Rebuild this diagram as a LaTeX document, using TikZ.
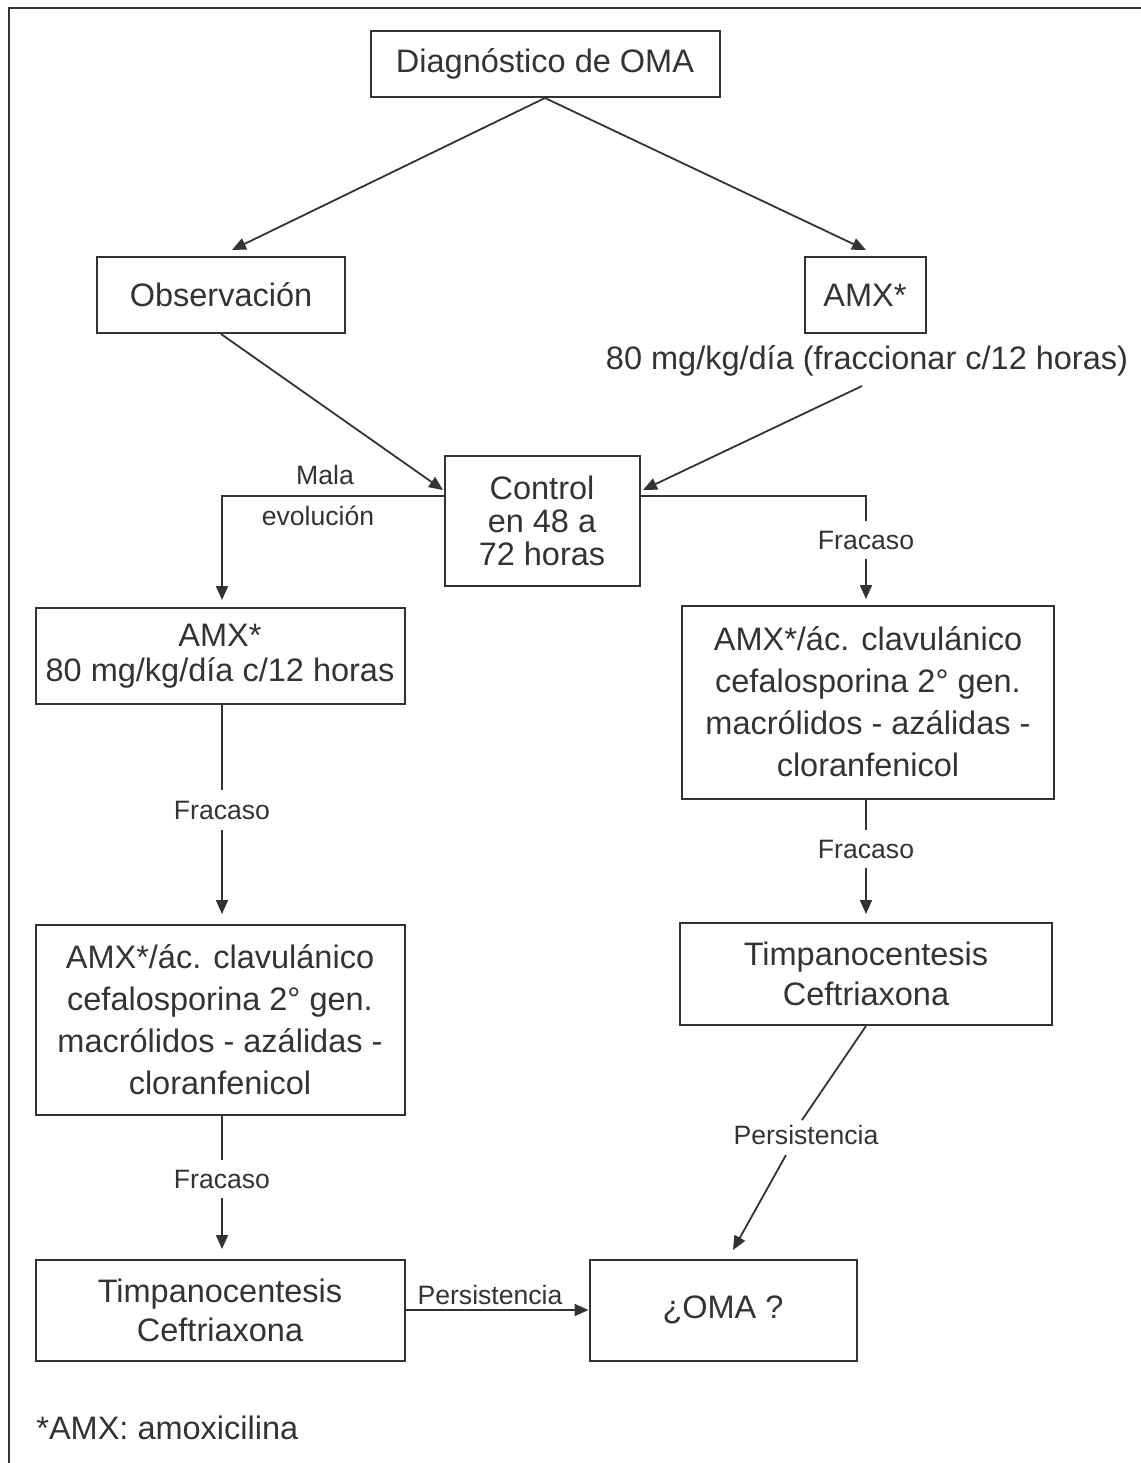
\documentclass[tikz,border=0pt]{standalone}
\usepackage{fontspec}
\setmainfont{Liberation Sans}
\usetikzlibrary{arrows.meta}
\definecolor{ink}{HTML}{333333}
\tikzset{
  box/.style={draw=ink, line width=1pt, inner sep=0pt, align=center,
    text=ink, font=\fontsize{16.25}{20}\selectfont},
  lbl/.style={inner sep=0pt, text=ink, font=\fontsize{13.3}{16}\selectfont},
  link/.style={draw=ink, line width=0.9pt},
  arr/.style={link, -{Triangle[length=7pt,width=6pt]}},
}
\begin{document}
\begin{tikzpicture}[x=0.5pt,y=-0.5pt]
\useasboundingbox (0,0) rectangle (1141,1463);
% outer frame (top and left rules)
\draw[ink, line width=1pt] (9,1463) -- (9,8) -- (1141,8);

% boxes
\node[box, minimum width=174.5pt, minimum height=33pt] (diag) at (545,64) {Diagnóstico de OMA};
\node[box, minimum width=124pt, minimum height=38pt] (obs) at (221,295) {Observación};
\node[box, minimum width=60.5pt, minimum height=38pt] (amx) at (865,295) {AMX*};
\node[text=ink, inner sep=0pt, font=\fontsize{16.25}{20}\selectfont] (dose) at (867,361) {80 mg/kg/día (fraccionar c/12 horas)};
\node[box, minimum width=97.5pt, minimum height=65pt, font=\fontsize{16.25}{16.5}\selectfont] (ctrl) at (542,521) {Control\\en 48 a\\72 horas};
\node[box, minimum width=184.5pt, minimum height=48pt, font=\fontsize{16.25}{17.5}\selectfont] (amxL) at (220,656) {AMX*\\80 mg/kg/día c/12 horas};
\node[box, minimum width=186pt, minimum height=96.5pt, font=\fontsize{16.25}{21}\selectfont] (altR) at (868,702) {AMX*/ác. clavulánico\\cefalosporina 2° gen.\\macrólidos - azálidas -\\cloranfenicol};
\node[box, minimum width=184.5pt, minimum height=95pt, font=\fontsize{16.25}{21}\selectfont] (altL) at (220,1020) {AMX*/ác. clavulánico\\cefalosporina 2° gen.\\macrólidos - azálidas -\\cloranfenicol};
\node[box, minimum width=186pt, minimum height=51pt, font=\fontsize{16.25}{20}\selectfont] (timR) at (866,974) {Timpanocentesis\\Ceftriaxona};
\node[box, minimum width=184.5pt, minimum height=50.5pt, font=\fontsize{16.25}{19.5}\selectfont] (timL) at (220,1310) {Timpanocentesis\\Ceftriaxona};
\node[box, minimum width=133.5pt, minimum height=50.5pt] (oma) at (723,1310) {¿OMA ?};

% footnote
\node[text=ink, inner sep=0pt, anchor=west, font=\fontsize{16.25}{20}\selectfont] (note) at (36,1428) {*AMX: amoxicilina};

% edge labels
\node[lbl] (mala) at (325,475) {Mala};
\node[lbl] (evol) at (318,516) {evolución};
\node[lbl, minimum height=19pt] (f1) at (866,540) {Fracaso};
\node[lbl, minimum height=20pt] (f2) at (222,810) {Fracaso};
\node[lbl, minimum height=19pt] (f3) at (866,849) {Fracaso};
\node[lbl, minimum height=19pt] (f4) at (222,1179) {Fracaso};
\node[lbl] (p1) at (806,1135) {Persistencia};
\node[lbl] (p2) at (490,1295) {Persistencia};

% connector points
\coordinate (obsTip) at (232,250);
\coordinate (amxTip) at (866,250);
\coordinate (ctrlL) at (443,490);
\coordinate (ctrlR) at (643,490);
\coordinate (doseOut) at (862,386);
\coordinate (bendL) at (222,496);
\coordinate (bendR) at (866,496);
\coordinate (p1a) at (802,1120);
\coordinate (p1b) at (786,1155);
\coordinate (omaTip) at (733,1250);

% connectors
\draw[arr] (diag.south) -- (obsTip);
\draw[arr] (diag.south) -- (amxTip);
\draw[arr] (obs.south) -- (ctrlL);
\draw[arr] (doseOut) -- (ctrlR);
\draw[arr] (ctrl.west |- bendL) -- (bendL) -- (222,600);
\draw[link] (ctrl.east |- bendR) -- (bendR) -- (f1.north);
\draw[arr] (f1.south) -- (866,599);
\draw[link] (amxL.south -| f2) -- (f2.north);
\draw[arr] (f2.south) -- (222,914);
\draw[link] (altR.south -| f3) -- (f3.north);
\draw[arr] (f3.south) -- (866,914);
\draw[link] (altL.south -| f4) -- (f4.north);
\draw[arr] (f4.south) -- (222,1249);
\draw[link] (timR.south) -- (p1a);
\draw[arr] (p1b) -- (omaTip);
\draw[arr] (timL.east) -- (oma.west);
\end{tikzpicture}
\end{document}
